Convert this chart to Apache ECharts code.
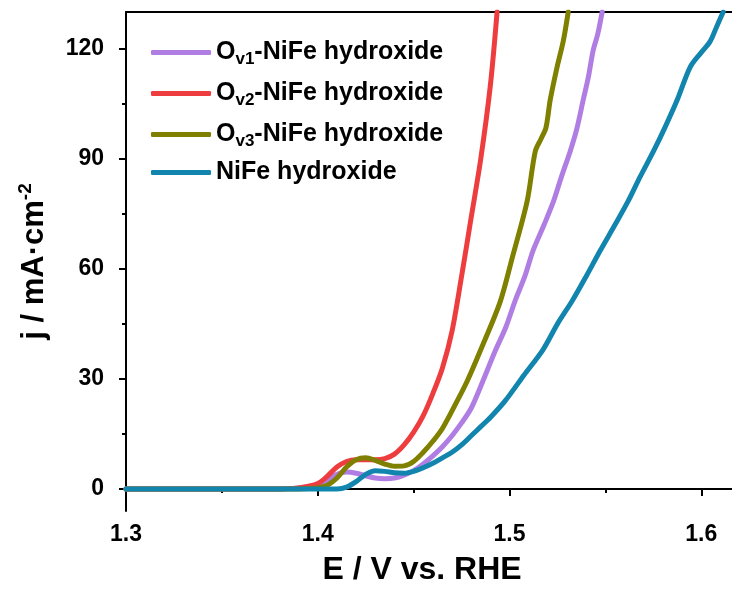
<!DOCTYPE html>
<html>
<head>
<meta charset="utf-8">
<script src="https://cdn.jsdelivr.net/npm/echarts@6/dist/echarts.min.js"></script>
<style>
  html, body { margin: 0; padding: 0; background: #fff; }
  #chart { width: 732px; height: 592px; }
</style>
</head>
<body>
<div id="chart"></div>
<script>
// Potential (V vs. RHE) and current density (mA/cm2) for each LSV curve
const ov1E = [1.30, 1.34, 1.38, 1.39, 1.40, 1.405, 1.41, 1.415, 1.42, 1.425, 1.43, 1.435, 1.44, 1.445, 1.45, 1.455, 1.46, 1.465, 1.47, 1.475, 1.48, 1.485, 1.4925, 1.498, 1.5029, 1.508, 1.5123, 1.518, 1.523, 1.527, 1.5316, 1.535, 1.5384, 1.541, 1.5436, 1.546, 1.5483];
const ov1J = [0, 0, 0, 0.3, 1.2, 2.5, 4.0, 4.6, 4.3, 3.6, 3.0, 2.8, 3.0, 3.8, 5.0, 6.8, 9.0, 11.5, 14.5, 18, 22, 28, 37.6, 44, 51.3, 58, 65, 72, 78.5, 85, 92, 98, 106, 112, 119.5, 124, 130];

const ov2E = [1.30, 1.34, 1.38, 1.39, 1.40, 1.405, 1.41, 1.415, 1.42, 1.425, 1.43, 1.435, 1.44, 1.445, 1.45, 1.455, 1.46, 1.465, 1.47, 1.475, 1.48, 1.485, 1.49, 1.4935];
const ov2J = [0, 0, 0, 0.3, 1.5, 3.5, 6.0, 7.5, 8.0, 8.0, 8.0, 8.3, 9.5, 12, 15.5, 20, 26, 33, 43, 58, 74, 90, 110, 130];

const ov3E = [1.30, 1.34, 1.39, 1.40, 1.405, 1.41, 1.415, 1.42, 1.425, 1.43, 1.435, 1.44, 1.445, 1.45, 1.455, 1.46, 1.465, 1.4727, 1.478, 1.4847, 1.4951, 1.5014, 1.5092, 1.5134, 1.5165, 1.519, 1.5212, 1.5248, 1.528, 1.5306];
const ov3J = [0, 0, 0, 0.3, 1.0, 3.0, 6.0, 8.0, 8.5, 7.8, 6.8, 6.2, 6.3, 7.5, 10, 13, 16.5, 24, 29.5, 37.6, 51, 63, 78.5, 92, 95.5, 98.5, 106, 115, 122, 130];

const nifeE = [1.30, 1.34, 1.38, 1.41, 1.415, 1.42, 1.425, 1.43, 1.435, 1.44, 1.445, 1.45, 1.455, 1.46, 1.465, 1.47, 1.475, 1.48, 1.485, 1.49, 1.4977, 1.5075, 1.5175, 1.525, 1.5327, 1.54, 1.5473, 1.555, 1.5619, 1.568, 1.575, 1.581, 1.5874, 1.5942, 1.60, 1.6046, 1.608, 1.6114];
const nifeJ = [0, 0, 0, 0, 0.5, 2.0, 4.0, 5.0, 4.8, 4.4, 4.3, 4.8, 5.8, 7.0, 8.5, 10, 12, 14.5, 17, 19.5, 24, 31, 38, 45, 51.3, 58, 65, 72, 78.5, 85, 92, 98.5, 106, 115, 119, 122, 126, 130];

const xTicks = [1.3, 1.4, 1.5, 1.6];
const xMinorTicks = [1.35, 1.45, 1.55];
const yTicks = [0, 30, 60, 90, 120];
const yMinorTicks = [15, 45, 75, 105];

const seriesNames = ['Ov1', 'Ov2', 'Ov3', 'NiFe'];
const seriesColors = ['#b07ee3', '#ee3d3f', '#7f7f00', '#1185ae'];
const seriesData = [[ov1E, ov1J], [ov2E, ov2J], [ov3E, ov3J], [nifeE, nifeJ]];

const legendLabels = {
  Ov1: '{b|O}{s|v1}{b|-NiFe hydroxide}',
  Ov2: '{b|O}{s|v2}{b|-NiFe hydroxide}',
  Ov3: '{b|O}{s|v3}{b|-NiFe hydroxide}',
  NiFe: '{b|NiFe hydroxide}'
};

const FONT = 'Liberation Sans';
const X_MIN = 1.3, X_MAX = 1.616, Y_MIN = -6, Y_MAX = 130;

function pairs(xs, ys) { return xs.map((x, i) => [x, ys[i]]); }

const chart = echarts.init(document.getElementById('chart'), null, { renderer: 'canvas' });

const axisLineStyle = { color: '#000', width: 2 };
const tickLabel = { fontFamily: FONT, fontWeight: 'bold', fontSize: 23, color: '#000' };

chart.setOption({
  animation: false,
  backgroundColor: '#fff',
  grid: { left: 126, right: 0, top: 12, bottom: 81, containLabel: false },
  legend: {
    orient: 'vertical',
    left: 146,
    top: 32,
    icon: 'roundRect',
    itemWidth: 60,
    itemHeight: 5,
    itemGap: 10,
    data: seriesNames,
    formatter: (name) => legendLabels[name],
    textStyle: {
      rich: {
        b: { fontFamily: FONT, fontWeight: 'bold', fontSize: 25, color: '#000', lineHeight: 30 },
        s: { fontFamily: FONT, fontWeight: 'bold', fontSize: 17, color: '#000', lineHeight: 16, padding: [14, 0, 0, 0] }
      }
    }
  },
  xAxis: [
    {
      type: 'value', position: 'bottom', min: X_MIN, max: X_MAX,
      name: 'E / V vs. RHE', nameLocation: 'middle', nameGap: 43,
      nameTextStyle: { fontFamily: FONT, fontWeight: 'bold', fontSize: 32, color: '#000', padding: [0, 14, 0, 0] },
      axisLine: { show: true, lineStyle: axisLineStyle },
      axisTick: { show: true, inside: false, length: 7, lineStyle: { color: '#000', width: 2 }, customValues: xTicks },
      axisLabel: Object.assign({ show: true, margin: 12, customValues: xTicks, formatter: (v) => v.toFixed(1) }, tickLabel),
      splitLine: { show: false }
    },
    {
      type: 'value', position: 'bottom', min: X_MIN, max: X_MAX,
      axisLine: { show: false },
      axisTick: { show: true, inside: false, length: 4, lineStyle: { color: '#000', width: 2 }, customValues: xMinorTicks },
      axisLabel: { show: false },
      splitLine: { show: false }
    },
    {
      type: 'value', position: 'top', min: X_MIN, max: X_MAX,
      axisLine: { show: true, lineStyle: axisLineStyle },
      axisTick: { show: false },
      axisLabel: { show: false },
      splitLine: { show: false }
    }
  ],
  yAxis: [
    {
      type: 'value', position: 'left', min: Y_MIN, max: Y_MAX,
      name: '{t|j / mA·cm}{u|-2}', nameLocation: 'middle', nameGap: 74, nameRotate: 90,
      nameTextStyle: {
        rich: {
          t: { fontFamily: FONT, fontWeight: 'bold', fontSize: 31, color: '#000', lineHeight: 36 },
          u: { fontFamily: FONT, fontWeight: 'bold', fontSize: 19, color: '#000', lineHeight: 20, padding: [0, 0, 16, 0] }
        }
      },
      axisLine: { show: true, lineStyle: axisLineStyle },
      axisTick: { show: true, inside: false, length: 7, lineStyle: { color: '#000', width: 2 }, customValues: yTicks },
      axisLabel: Object.assign({ show: true, margin: 22, customValues: yTicks }, tickLabel),
      splitLine: { show: false }
    },
    {
      type: 'value', position: 'left', min: Y_MIN, max: Y_MAX,
      axisLine: { show: false },
      axisTick: { show: true, inside: false, length: 4, lineStyle: { color: '#000', width: 2 }, customValues: yMinorTicks },
      axisLabel: { show: false },
      splitLine: { show: false }
    }
  ],
  series: seriesNames.map((name, i) => ({
    name,
    type: 'line',
    xAxisIndex: 0,
    yAxisIndex: 0,
    showSymbol: false,
    symbol: 'none',
    smooth: 0.3,
    clip: true,
    lineStyle: { color: seriesColors[i], width: 5, cap: 'round', join: 'round' },
    itemStyle: { color: seriesColors[i] },
    data: pairs(seriesData[i][0], seriesData[i][1])
  }))
});
</script>
</body>
</html>
